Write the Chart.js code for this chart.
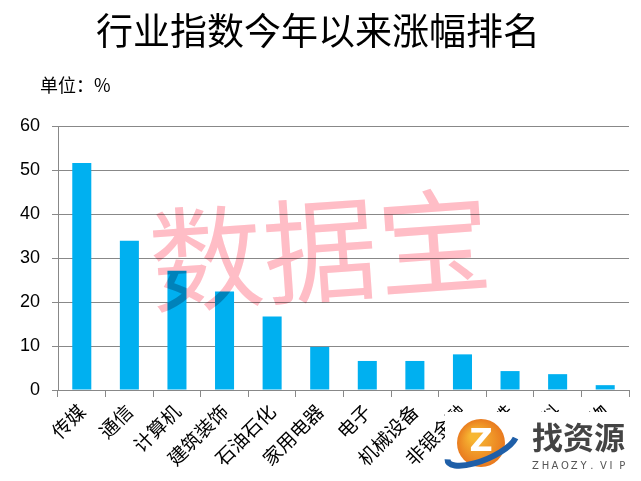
<!DOCTYPE html>
<html>
<head>
<meta charset="utf-8">
<script src="https://cdn.jsdelivr.net/npm/chart.js@4"></script>
<style>
html,body{margin:0;padding:0;background:#fff;}
#c{display:block;}
</style>
</head>
<body>
<canvas id="c" width="641" height="481"></canvas>
<script>
const chartTitle = "行业指数今年以来涨幅排名";
const unitLabel = "单位：%";
const categories = ["传媒","通信","计算机","建筑装饰","石油石化","家用电器","电子","机械设备","非银金融","钢铁","食品饮料","医药生物"];
const gains = [51.6, 33.9, 27.1, 22.4, 16.7, 9.8, 6.6, 6.6, 8.1, 4.3, 3.6, 1.1];
const yTicks = [0, 10, 20, 30, 40, 50, 60];

const decor = {
  id: 'decor',
  afterDraw(chart) {
    const ctx = chart.ctx;
    ctx.save();
    // title
    ctx.fillStyle = '#000';
    ctx.textAlign = 'center';
    ctx.textBaseline = 'middle';
    ctx.font = '37px "Noto Sans CJK SC"';
    ctx.fillText(chartTitle, 318, 31);
    // unit
    ctx.textAlign = 'left';
    ctx.font = '18px "Noto Sans CJK SC"';
    ctx.fillText(unitLabel, 40, 85);
    // watermark
    ctx.save();
    ctx.globalCompositeOperation = 'multiply';
    ctx.translate(320, 250);
    ctx.rotate(-0.07);
    ctx.fillStyle = '#FFBDC6';
    ctx.font = '114px "Noto Sans CJK SC"';
    ctx.textAlign = 'center';
    ctx.fillText('数据宝', 0, 0);
    ctx.restore();
    // logo
    ctx.fillStyle = '#fff';
    ctx.fillRect(445, 412, 196, 69);
    const g = ctx.createRadialGradient(474, 436, 4, 481, 443, 25);
    g.addColorStop(0, '#F7B733');
    g.addColorStop(1, '#E8771E');
    ctx.fillStyle = g;
    ctx.beginPath(); ctx.arc(481, 443, 24, 0, Math.PI * 2); ctx.fill();
    ctx.save();
    ctx.translate(482, 447); ctx.rotate(-0.4);
    ctx.strokeStyle = '#1F5FA8'; ctx.lineWidth = 6;
    ctx.beginPath(); ctx.ellipse(0, 0, 37, 13, 0, 0.12 * Math.PI, 1.05 * Math.PI); ctx.stroke();
    ctx.restore();
    ctx.fillStyle = '#fff';
    ctx.font = 'bold 32px "DejaVu Sans"';
    ctx.textAlign = 'center';
    ctx.fillText('Z', 481, 443);
    ctx.fillStyle = '#444';
    ctx.font = 'bold 31px "Noto Sans CJK SC"';
    ctx.textAlign = 'left';
    ctx.fillText('找资源', 532, 437);
    ctx.font = '10px "DejaVu Sans"';
    ctx.fillStyle = '#555';
    const s = 'ZHAOZY.VIP';
    for (let i = 0; i < s.length; i++) ctx.fillText(s[i], 532 + i * 9.7, 466);
    ctx.restore();
  }
};

new Chart(document.getElementById('c'), {
  type: 'bar',
  data: {
    labels: categories,
    datasets: [{
      data: gains,
      backgroundColor: '#00B0F0',
      barPercentage: 0.4,
      categoryPercentage: 1.0
    }]
  },
  options: {
    responsive: false,
    animation: false,
    devicePixelRatio: 1,
    layout: { padding: { top: 126, right: 12, left: 0, bottom: 0 } },
    plugins: { legend: { display: false }, title: { display: false }, tooltip: { enabled: false } },
    scales: {
      x: {
        afterFit(s) { s.height = 91; },
        grid: { drawOnChartArea: false, drawTicks: true, tickLength: 7, color: '#888', offset: true },
        border: { color: '#888', width: 1 },
        ticks: {
          color: '#000', minRotation: 45, maxRotation: 45, autoSkip: false, padding: 3,
          font: { family: '"Noto Sans CJK SC"', size: 19 }
        }
      },
      y: {
        min: 0, max: 60,
        afterFit(s) { s.width = 58; },
        afterBuildTicks(s) { s.ticks = yTicks.map(v => ({ value: v })); },
        grid: { color: '#888', tickLength: 6, lineWidth: 1 },
        border: { color: '#888', width: 1 },
        ticks: {
          color: '#000', padding: 12,
          font: { family: '"Liberation Sans"', size: 18 }
        }
      }
    }
  },
  plugins: [decor]
});
</script>
</body>
</html>
